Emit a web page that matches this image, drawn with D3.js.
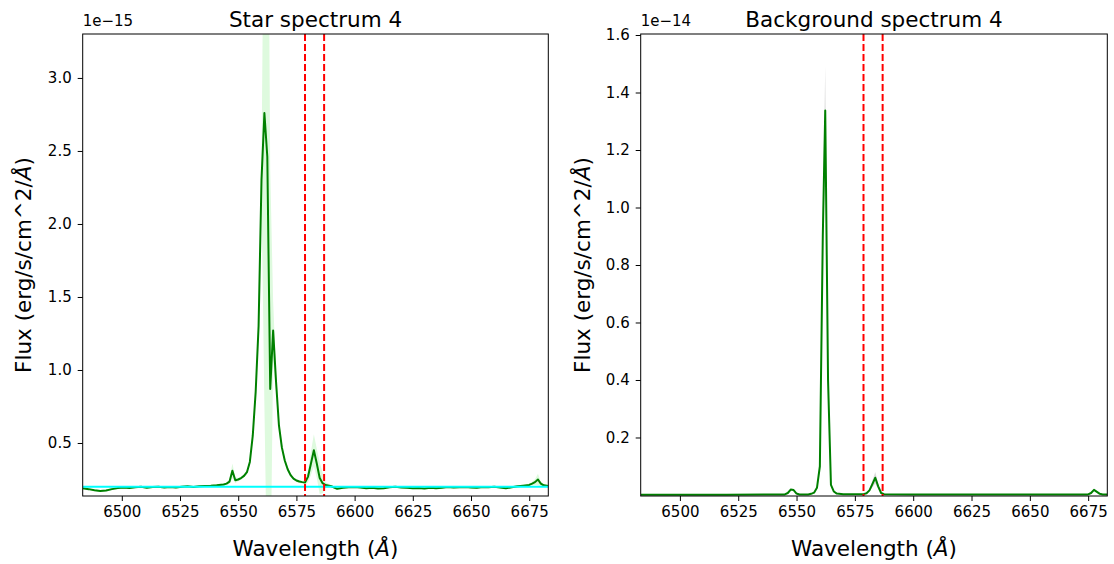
<!DOCTYPE html>
<html><head><meta charset="utf-8">
<script src="https://cdn.jsdelivr.net/npm/d3@7"></script>
<style>body{margin:0;background:#fff} text{font-family:"DejaVu Sans",sans-serif}</style>
</head><body><svg id="c" width="1114" height="564"></svg>
<script>
// ---- data (flux in units of the axis offset) ----
const starWave = [6483.25,6485.75,6488.25,6490.75,6493.25,6495.75,6498.25,6500.75,6503.25,6505.75,6508.25,6510.75,6513.25,6515.75,6518.25,6520.75,6523.25,6525.75,6528.25,6530.75,6533.25,6535.75,6538.25,6540.75,6543.75,6545.0,6546.25,6547.5,6548.75,6550.0,6551.25,6552.5,6553.75,6555.0,6556.25,6557.5,6558.75,6560.0,6561.25,6562.5,6563.75,6565.0,6566.25,6567.5,6568.75,6570.0,6571.25,6572.5,6573.75,6575.0,6576.25,6577.5,6578.75,6580.0,6581.25,6582.5,6583.75,6585.0,6586.25,6587.5,6590.0,6592.5,6595.0,6597.5,6600.0,6602.5,6605.0,6607.5,6610.0,6612.5,6615.0,6617.5,6620.0,6622.5,6625.0,6627.5,6630.0,6632.5,6635.0,6637.5,6640.0,6642.5,6645.0,6647.5,6650.0,6652.5,6655.0,6657.5,6660.0,6662.5,6665.0,6667.5,6670.0,6672.5,6675.0,6676.25,6677.5,6678.75,6680.0,6681.25,6683.25];
const starFlux = [0.190,0.184,0.177,0.172,0.175,0.184,0.191,0.195,0.192,0.197,0.200,0.194,0.198,0.201,0.196,0.199,0.195,0.201,0.203,0.199,0.204,0.206,0.208,0.211,0.216,0.222,0.235,0.31,0.245,0.25,0.26,0.275,0.30,0.37,0.55,0.85,1.30,2.30,2.76,2.46,0.87,1.27,0.92,0.62,0.47,0.38,0.32,0.28,0.256,0.243,0.236,0.232,0.230,0.27,0.36,0.45,0.36,0.26,0.225,0.212,0.204,0.186,0.193,0.197,0.199,0.195,0.190,0.193,0.188,0.190,0.197,0.200,0.196,0.193,0.190,0.192,0.188,0.193,0.190,0.194,0.198,0.195,0.197,0.199,0.196,0.193,0.198,0.197,0.200,0.195,0.190,0.197,0.203,0.208,0.213,0.222,0.232,0.250,0.222,0.210,0.205];
const starErr = [0.006,0.006,0.006,0.006,0.006,0.006,0.006,0.006,0.006,0.006,0.006,0.006,0.006,0.006,0.006,0.006,0.006,0.006,0.006,0.006,0.006,0.006,0.006,0.006,0.008,0.008,0.015,0.05,0.02,0.01,0.01,0.012,0.015,0.02,0.03,0.04,0.06,0.10,2.0,3.0,1.5,0.2,0.08,0.04,0.03,0.02,0.015,0.012,0.01,0.01,0.01,0.01,0.015,0.04,0.08,0.11,0.10,0.11,0.07,0.02,0.008,0.006,0.006,0.006,0.006,0.006,0.006,0.006,0.006,0.006,0.006,0.006,0.006,0.006,0.006,0.006,0.006,0.006,0.006,0.006,0.006,0.006,0.006,0.006,0.006,0.006,0.006,0.006,0.006,0.006,0.006,0.006,0.006,0.008,0.008,0.012,0.02,0.04,0.015,0.008,0.006];
const contWave = [6483.2, 6683.2];
const contFlux = [0.2, 0.2];

const bgWave = [6483.25,6500.0,6520.0,6540.0,6545.0,6546.25,6547.5,6548.75,6550.0,6551.25,6555.0,6556.25,6557.5,6558.75,6560.0,6561.25,6562.3,6563.5,6564.75,6566.0,6567.25,6570.0,6578.75,6580.0,6581.25,6582.5,6583.75,6585.0,6586.25,6587.5,6600.0,6640.0,6675.0,6676.25,6677.5,6678.75,6680.0,6681.25,6683.25];
const bgFlux = [0.001,0.001,0.0012,0.0015,0.002,0.007,0.019,0.017,0.005,0.002,0.002,0.004,0.008,0.025,0.10,0.90,1.337,0.40,0.035,0.012,0.005,0.003,0.003,0.006,0.016,0.038,0.060,0.030,0.007,0.003,0.002,0.0015,0.002,0.007,0.018,0.011,0.004,0.002,0.0015];
const bgErr = [0.0005,0.0005,0.0005,0.0005,0.0005,0.0008,0.002,0.002,0.0008,0.0005,0.0005,0.0006,0.001,0.003,0.012,0.09,0.155,0.05,0.006,0.001,0.0005,0.0005,0.0005,0.001,0.004,0.012,0.02,0.01,0.002,0.0005,0.0005,0.0005,0.0005,0.001,0.002,0.002,0.001,0.0005,0.0005];

const lineMarkers = [6578.7, 6586.9];
const xTicks = [6500, 6525, 6550, 6575, 6600, 6625, 6650, 6675];
const starYTicks = [0.5, 1.0, 1.5, 2.0, 2.5, 3.0];
const bgYTicks = [0.2, 0.4, 0.6, 0.8, 1.0, 1.2, 1.4, 1.6];
const titles = ["Star spectrum 4", "Background spectrum 4"];
const offsets = ["1e\u221215", "1e\u221214"];

const svg = d3.select("#c");
const yTop = 34, yBot = 496;

function panel(cfg, idx) {
  const x = d3.scaleLinear().domain([6483.2, 6683.2]).range([cfg.x0, cfg.x1]);
  const y = d3.scaleLinear().domain(cfg.ydom).range([yBot, yTop]);
  const g = svg.append("g");
  const cid = "clip" + idx;
  g.append("clipPath").attr("id", cid).append("rect")
    .attr("x", cfg.x0).attr("y", yTop).attr("width", cfg.x1 - cfg.x0).attr("height", yBot - yTop);
  const pg = g.append("g").attr("clip-path", `url(#${cid})`);
  const d = cfg.wave.map((w, i) => ({w, f: cfg.flux[i], e: cfg.err[i]}));
  pg.append("path").datum(d)
    .attr("d", d3.area().x(p => x(p.w)).y0(p => y(p.f - p.e)).y1(p => y(p.f + p.e)))
    .attr("fill", cfg.band).attr("stroke", "none");
  pg.append("path").datum(d)
    .attr("d", d3.line().x(p => x(p.w)).y(p => y(p.f)))
    .attr("fill", "none").attr("stroke", "#008000").attr("stroke-width", 2).attr("stroke-linejoin", "round");
  if (cfg.cont) {
    const cd = contWave.map((w, i) => ({w, f: contFlux[i]}));
    pg.append("path").datum(cd)
      .attr("d", d3.line().x(p => x(p.w)).y(p => y(p.f)))
      .attr("fill", "none").attr("stroke", "#00ffff").attr("stroke-width", 2);
  }
  lineMarkers.forEach(m => {
    pg.append("line").attr("x1", x(m)).attr("x2", x(m)).attr("y1", yTop).attr("y2", yBot)
      .attr("stroke", "#ff0000").attr("stroke-width", 2).attr("stroke-dasharray", "7,3");
  });
  const xa = g.append("g").attr("transform", `translate(0,${yBot})`)
    .call(d3.axisBottom(x).tickValues(xTicks).tickSize(5).tickPadding(5).tickFormat(d3.format("d")));
  const ya = g.append("g").attr("transform", `translate(${cfg.x0},0)`)
    .call(d3.axisLeft(y).tickValues(cfg.yticks).tickSize(5).tickPadding(6).tickFormat(d3.format(".1f")));
  [xa, ya].forEach(a => {
    a.select(".domain").remove();
    a.selectAll("text").attr("font-size", 15).attr("fill", "#000").style("font-family", "DejaVu Sans");
    a.selectAll("line").attr("stroke", "#000").attr("stroke-width", 1);
  });
  g.append("rect").attr("x", cfg.x0).attr("y", yTop).attr("width", cfg.x1 - cfg.x0).attr("height", yBot - yTop)
    .attr("fill", "none").attr("stroke", "#000").attr("stroke-width", 1);
  const cx = (cfg.x0 + cfg.x1) / 2;
  g.append("text").attr("x", cx).attr("y", 27).attr("text-anchor", "middle").attr("font-size", 21.5).text(titles[idx]);
  g.append("text").attr("x", cfg.x0).attr("y", 26).attr("font-size", 15).text(offsets[idx]);
  const xl = g.append("text").attr("x", cx).attr("y", 556).attr("text-anchor", "middle").attr("font-size", 21.5);
  xl.append("tspan").text("Wavelength (");
  xl.append("tspan").attr("font-style", "italic").text("\u00c5");
  xl.append("tspan").text(")");
  const yl = g.append("text").attr("transform", `translate(${cfg.ylx},${(yTop + yBot) / 2}) rotate(-90)`)
    .attr("text-anchor", "middle").attr("font-size", 21.5);
  yl.append("tspan").text("Flux (erg/s/cm^2/");
  yl.append("tspan").attr("font-style", "italic").text("\u00c5");
  yl.append("tspan").text(")");
}

panel({x0: 82.7, x1: 548.3, ydom: [0.137, 3.301], yticks: starYTicks, wave: starWave, flux: starFlux, err: starErr, band: "#defade", cont: true, ylx: 31}, 0);
panel({x0: 640.7, x1: 1107.3, ydom: [-0.0035, 1.6035], yticks: bgYTicks, wave: bgWave, flux: bgFlux, err: bgErr, band: "#dcdcdc", cont: false, ylx: 590}, 1);
</script></body></html>
